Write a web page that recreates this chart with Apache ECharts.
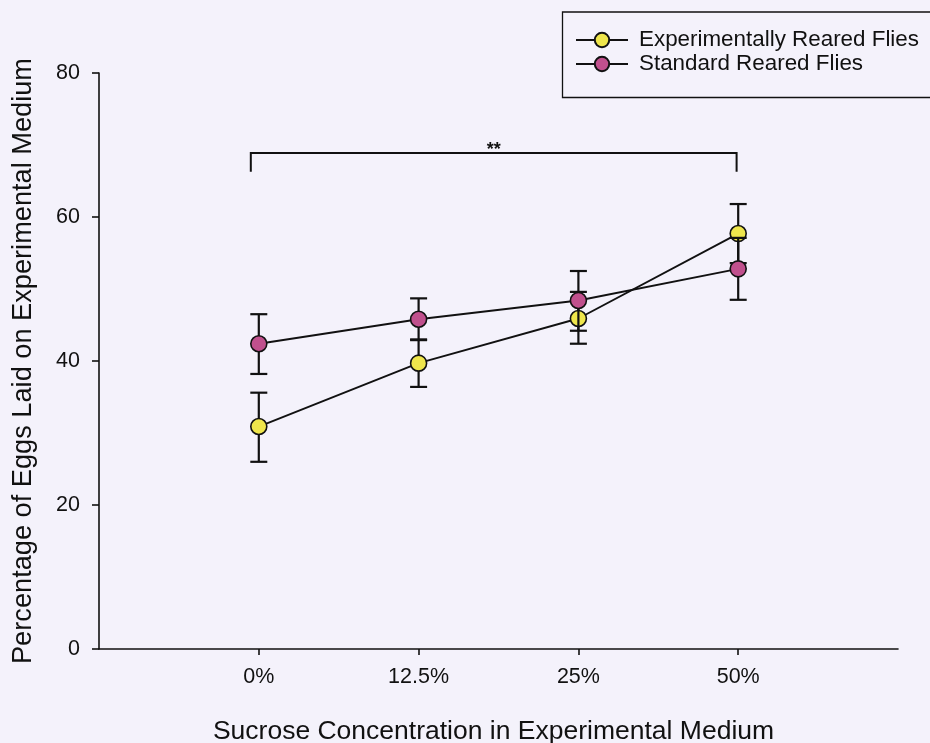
<!DOCTYPE html>
<html>
<head>
<meta charset="utf-8">
<script src="https://cdn.jsdelivr.net/npm/echarts@6/dist/echarts.min.js"></script>
<style>
html,body{margin:0;padding:0;background:#f4f2fb;}
#chart{width:930px;height:743px;}
</style>
</head>
<body>
<div id="chart"></div>
<script>
// ---- data ----
const categories = ['0%', '12.5%', '25%', '50%'];
const expMean  = [30.9, 39.7, 45.9, 57.7];
const expLow   = [26.0, 36.4, 42.4, 53.6];
const expHigh  = [35.6, 43.0, 49.6, 61.8];
const stdMean  = [42.4, 45.8, 48.4, 52.8];
const stdLow   = [38.2, 42.9, 44.2, 48.5];
const stdHigh  = [46.5, 48.7, 52.5, 57.1];
const yTicks   = [0, 20, 40, 60, 80];
const seriesNames = ['Experimentally Reared Flies', 'Standard Reared Flies'];
// significance bracket: [xStart, xEnd, yTop, yDrop, label]
const bracket = [[-0.05, 2.99, 68.9, 66.3, '**']];

const catIdx = categories.map((c, i) => i);
const YELLOW = '#efe64c';
const MAGENTA = '#c0508d';

function errData(low, high) {
  return catIdx.map(i => [i, low[i], high[i]]);
}
function errRender(params, api) {
  const x = api.value(0);
  const lo = api.coord([x, api.value(1)]);
  const hi = api.coord([x, api.value(2)]);
  const w = 8.5;
  const st = { stroke: '#111', lineWidth: 2.2 };
  return {
    type: 'group',
    children: [
      { type: 'line', shape: { x1: lo[0], y1: lo[1], x2: hi[0], y2: hi[1] }, style: st },
      { type: 'line', shape: { x1: lo[0] - w, y1: lo[1], x2: lo[0] + w, y2: lo[1] }, style: st },
      { type: 'line', shape: { x1: hi[0] - w, y1: hi[1], x2: hi[0] + w, y2: hi[1] }, style: st }
    ]
  };
}

const chart = echarts.init(document.getElementById('chart'), null, { renderer: 'canvas' });
const FONT = 'Liberation Sans, Arial, sans-serif';

chart.setOption({
  backgroundColor: '#f4f2fb',
  animation: false,
  grid: { left: 99, right: 32, top: 73, bottom: 94, containLabel: false, outerBoundsMode: 'none' },
  legend: {
    left: 575, top: 29,
    orient: 'vertical',
    itemWidth: 52, itemHeight: 18, itemGap: 2,
    padding: 0,
    data: seriesNames,
    textStyle: { fontFamily: FONT, fontSize: 22.4, color: '#111', padding: [0, 0, 0, 6] }
  },
  graphic: [{
    type: 'rect', left: 560, top: 9.5, silent: true,
    shape: { width: 400, height: 85.5 },
    style: { fill: 'none', stroke: '#111', lineWidth: 1.3 }
  }],
  xAxis: {
    type: 'value', min: -1, max: 4, interval: 1,
    name: 'Sucrose Concentration in Experimental Medium',
    nameLocation: 'middle', nameGap: 69,
    nameTextStyle: { fontFamily: FONT, fontSize: 26.5, color: '#111', padding: [0, 10, 0, 0] },
    axisLine: { onZero: false, lineStyle: { color: '#111', width: 1.6 } },
    axisTick: { show: true, length: 6, customValues: catIdx, lineStyle: { color: '#111', width: 1.6 } },
    axisLabel: {
      customValues: catIdx, margin: 17,
      fontFamily: FONT, fontSize: 21.5, color: '#111',
      formatter: v => categories[Math.round(v)] ?? ''
    },
    splitLine: { show: false }
  },
  yAxis: {
    type: 'value', min: 0, max: 80, interval: 20,
    name: 'Percentage of Eggs Laid on Experimental Medium',
    nameLocation: 'middle', nameGap: 62, nameRotate: 90,
    nameTextStyle: { fontFamily: FONT, fontSize: 27.2, color: '#111' },
    axisLine: { show: true, onZero: false, lineStyle: { color: '#111', width: 1.6 } },
    axisTick: { show: true, length: 7, customValues: yTicks, lineStyle: { color: '#111', width: 1.6 } },
    axisLabel: { customValues: yTicks, margin: 19, fontFamily: FONT, fontSize: 21.5, color: '#111' },
    splitLine: { show: false }
  },
  series: [
    {
      type: 'custom', name: 'expErr', z: 2, silent: true,
      renderItem: errRender, data: errData(expLow, expHigh),
      encode: { x: 0, y: [1, 2] }
    },
    {
      type: 'line', name: seriesNames[0], z: 3,
      data: catIdx.map(i => [i, expMean[i]]),
      symbol: 'circle', symbolSize: 16,
      lineStyle: { color: '#111', width: 1.9 },
      itemStyle: { color: YELLOW, borderColor: '#111', borderWidth: 1.6 }
    },
    {
      type: 'custom', name: 'stdErr', z: 4, silent: true,
      renderItem: errRender, data: errData(stdLow, stdHigh),
      encode: { x: 0, y: [1, 2] }
    },
    {
      type: 'line', name: seriesNames[1], z: 5,
      data: catIdx.map(i => [i, stdMean[i]]),
      symbol: 'circle', symbolSize: 16,
      lineStyle: { color: '#111', width: 1.9 },
      itemStyle: { color: MAGENTA, borderColor: '#111', borderWidth: 1.6 }
    },
    {
      type: 'custom', name: 'bracket', z: 6, silent: true,
      data: bracket,
      encode: { x: [0, 1], y: [2, 3] },
      renderItem: function (params, api) {
        const a = api.coord([api.value(0), api.value(2)]);
        const b = api.coord([api.value(1), api.value(2)]);
        const ad = api.coord([api.value(0), api.value(3)]);
        const bd = api.coord([api.value(1), api.value(3)]);
        return {
          type: 'group',
          children: [
            { type: 'polyline', shape: { points: [ad, a, b, bd] },
              style: { stroke: '#111', lineWidth: 2, fill: 'none' } },
            { type: 'text', x: (a[0] + b[0]) / 2, y: a[1] + 6,
              style: { text: bracket[params.dataIndex][4], fontFamily: FONT, fontSize: 18,
                       fontWeight: 'bold', fill: '#111', align: 'center', verticalAlign: 'bottom' } }
          ]
        };
      }
    }
  ]
});
</script>
</body>
</html>
